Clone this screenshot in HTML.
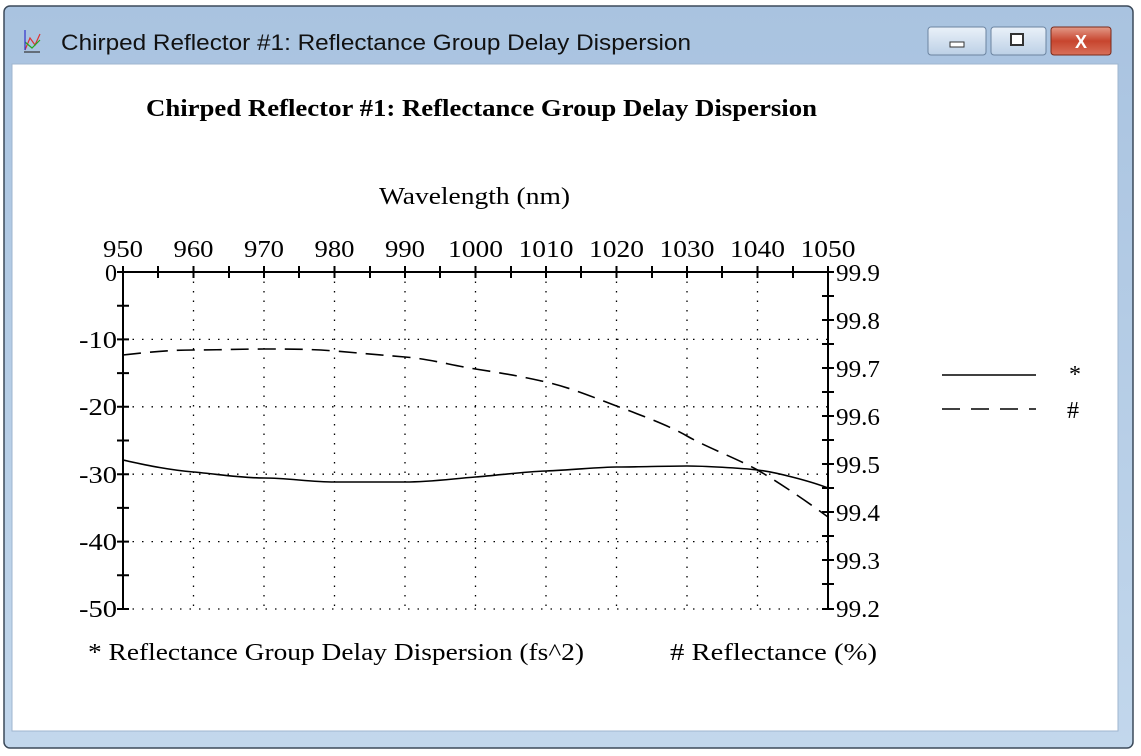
<!DOCTYPE html>
<html><head><style>
body{margin:0;width:1141px;height:751px;background:#fff;overflow:hidden;font-family:"Liberation Serif",serif}
</style></head><body>
<svg width="1141" height="751" xmlns="http://www.w3.org/2000/svg">
<defs><linearGradient id="tb" x1="0" y1="0" x2="0" y2="1"><stop offset="0" stop-color="#a9c3e0"/><stop offset="1" stop-color="#c2d7ec"/></linearGradient>
<linearGradient id="cl" x1="0" y1="0" x2="0" y2="1"><stop offset="0" stop-color="#e39a88"/><stop offset="0.5" stop-color="#c7452e"/><stop offset="1" stop-color="#d8705a"/></linearGradient>
<linearGradient id="bt" x1="0" y1="0" x2="0" y2="1"><stop offset="0" stop-color="#eaf1f9"/><stop offset="1" stop-color="#bcd0e6"/></linearGradient></defs>
<rect x="4" y="6" width="1129" height="742" rx="6" fill="url(#tb)" stroke="#3c4a5a" stroke-width="1.5"/>
<rect x="12" y="64" width="1106" height="667" fill="#fff" stroke="#9fb6cf"/>
<g stroke-width="1.2" fill="none"><path d="M24 52H40" stroke="#333"/><path d="M25 50L30 38L35 45L40 34" stroke="#d33"/><path d="M25 42L32 48L40 40" stroke="#2a2"/><path d="M25 30V50" stroke="#33c"/></g>
<text x="61" y="50" font-family="Liberation Sans,sans-serif" font-size="22" fill="#111" textLength="630" lengthAdjust="spacingAndGlyphs">Chirped Reflector #1: Reflectance Group Delay Dispersion</text>
<rect x="928" y="27" width="58" height="28" rx="3" fill="url(#bt)" stroke="#6c84a0"/>
<rect x="950" y="42" width="14" height="5" fill="#fff" stroke="#333"/>
<rect x="991" y="27" width="55" height="28" rx="3" fill="url(#bt)" stroke="#6c84a0"/>
<rect x="1011" y="34" width="12" height="11" fill="#fff" stroke="#333" stroke-width="2"/>
<rect x="1051" y="27" width="60" height="28" rx="3" fill="url(#cl)" stroke="#7a2a1a"/>
<text x="1081" y="48" text-anchor="middle" font-family="Liberation Sans,sans-serif" font-weight="bold" font-size="18" fill="#fff">X</text>

<text x="146" y="116" font-weight="bold" font-size="24" fill="#000" textLength="671" lengthAdjust="spacingAndGlyphs">Chirped Reflector #1: Reflectance Group Delay Dispersion</text>
<text x="379" y="204" font-size="24" textLength="191" lengthAdjust="spacingAndGlyphs">Wavelength (nm)</text>
<g font-size="24" text-anchor="middle">
<text x="123" y="257" textLength="40" lengthAdjust="spacingAndGlyphs">950</text><text x="193.5" y="257" textLength="40" lengthAdjust="spacingAndGlyphs">960</text><text x="264" y="257" textLength="40" lengthAdjust="spacingAndGlyphs">970</text><text x="334.5" y="257" textLength="40" lengthAdjust="spacingAndGlyphs">980</text><text x="405" y="257" textLength="40" lengthAdjust="spacingAndGlyphs">990</text><text x="475.5" y="257" textLength="55" lengthAdjust="spacingAndGlyphs">1000</text><text x="546" y="257" textLength="55" lengthAdjust="spacingAndGlyphs">1010</text><text x="616.5" y="257" textLength="55" lengthAdjust="spacingAndGlyphs">1020</text><text x="687" y="257" textLength="55" lengthAdjust="spacingAndGlyphs">1030</text><text x="757.5" y="257" textLength="55" lengthAdjust="spacingAndGlyphs">1040</text><text x="828" y="257" textLength="55" lengthAdjust="spacingAndGlyphs">1050</text>
</g>
<g font-size="24" text-anchor="end">
<text x="117" y="281">0</text><text x="117" y="348" textLength="38" lengthAdjust="spacingAndGlyphs">-10</text><text x="117" y="415" textLength="38" lengthAdjust="spacingAndGlyphs">-20</text><text x="117" y="483" textLength="38" lengthAdjust="spacingAndGlyphs">-30</text><text x="117" y="550" textLength="38" lengthAdjust="spacingAndGlyphs">-40</text><text x="117" y="617" textLength="38" lengthAdjust="spacingAndGlyphs">-50</text>
</g>
<g font-size="24">
<text x="836" y="281" textLength="44" lengthAdjust="spacingAndGlyphs">99.9</text><text x="836" y="329" textLength="44" lengthAdjust="spacingAndGlyphs">99.8</text><text x="836" y="377" textLength="44" lengthAdjust="spacingAndGlyphs">99.7</text><text x="836" y="425" textLength="44" lengthAdjust="spacingAndGlyphs">99.6</text><text x="836" y="473" textLength="44" lengthAdjust="spacingAndGlyphs">99.5</text><text x="836" y="521" textLength="44" lengthAdjust="spacingAndGlyphs">99.4</text><text x="836" y="569" textLength="44" lengthAdjust="spacingAndGlyphs">99.3</text><text x="836" y="617" textLength="44" lengthAdjust="spacingAndGlyphs">99.2</text>
</g>
<g stroke="#000" stroke-width="1.3" stroke-dasharray="1.5 8" fill="none">
<path d="M193.5 272V609M264 272V609M334.5 272V609M405 272V609M475.5 272V609M546 272V609M616.5 272V609M687 272V609M757.5 272V609"/>
<path d="M123 339.4H828M123 406.8H828M123 474.2H828M123 541.6H828M123 609H828"/>
</g>
<g stroke="#000" stroke-width="2" fill="none">
<path d="M123 266V609M828 266V609M123 272H828"/>
<path d="M158 266V278M193.5 266V278M229 266V278M264 266V278M299 266V278M334.5 266V278M370 266V278M405 266V278M440 266V278M475.5 266V278M511 266V278M546 266V278M581 266V278M616.5 266V278M652 266V278M687 266V278M722 266V278M757.5 266V278M793 266V278M828 266V278"/>
<path d="M117 272H129M117 305.7H129M117 339.4H129M117 373.1H129M117 406.8H129M117 440.5H129M117 474.2H129M117 507.9H129M117 541.6H129M117 575.3H129M117 609H129"/>
<path d="M822 272H834M822 296H834M822 320H834M822 344H834M822 368H834M822 392H834M822 416H834M822 440H834M822 464H834M822 488H834M822 512H834M822 536H834M822 560H834M822 584H834M822 609H834"/>
</g>
<path d="M123 460 C150 466,170 470,193.5 472 S240 478,264 478 S310 482,334.5 482 S380 482,405 482 S450 479,475.5 477 S520 472,546 471 S600 467,616.5 467 S670 466,687 466 S740 468,757.5 470 S810 481,828 488" fill="none" stroke="#000" stroke-width="1.6"/>
<path d="M123 355 C150 352,170 350,193.5 350 S240 349,264 349 S310 349,334.5 351 S380 355,405 357 S450 365,475.5 369 S520 376,546 382 S595 398,616.5 406 S670 426,687 436 S740 460,757.5 470 S805 500,828 517" fill="none" stroke="#000" stroke-width="1.6" stroke-dasharray="18 9"/>
<path d="M942 375H1036" stroke="#000" stroke-width="1.6"/>
<path d="M942 409H1036" stroke="#000" stroke-width="1.6" stroke-dasharray="18 11"/>
<text x="1069" y="382" font-size="24">*</text>
<text x="1067" y="418" font-size="24">#</text>
<text x="88" y="660" font-size="24" textLength="496" lengthAdjust="spacingAndGlyphs">* Reflectance Group Delay Dispersion (fs^2)</text>
<text x="670" y="660" font-size="24" textLength="207" lengthAdjust="spacingAndGlyphs"># Reflectance (%)</text>
</svg>
</body></html>
